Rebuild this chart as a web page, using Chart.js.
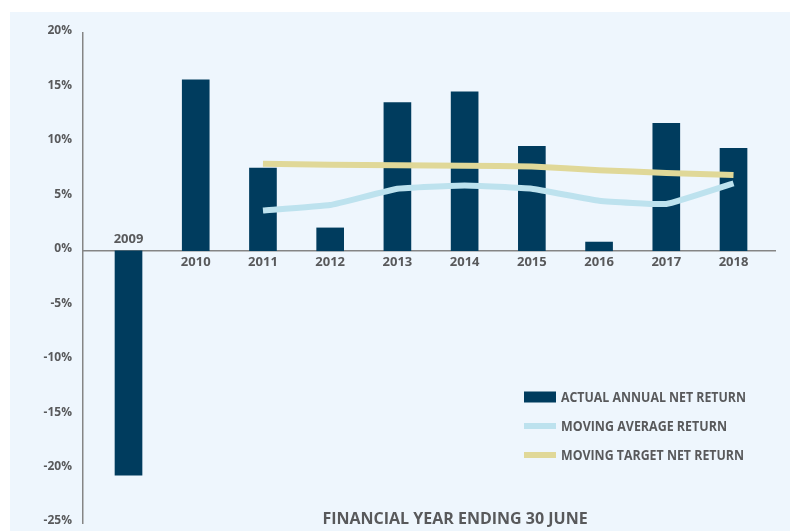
<!DOCTYPE html>
<html>
<head>
<meta charset="utf-8">
<script src="https://cdn.jsdelivr.net/npm/chart.js@4"></script>
<style>
  body { margin: 0; background: #ffffff; }
  #wrap { position: absolute; left: 10px; top: 12px; width: 780px; height: 519px; background: #eef6fd; }
</style>
</head>
<body>
<div id="wrap"><canvas id="returnsChart"></canvas></div>
<script>
// Chart data
const years = [2009, 2010, 2011, 2012, 2013, 2014, 2015, 2016, 2017, 2018];
const actualReturn = [-20.6, 15.7, 7.6, 2.1, 13.6, 14.6, 9.6, 0.8, 11.7, 9.4];
const movingAverage = [null, null, 3.7, 4.2, 5.7, 6.0, 5.7, 4.6, 4.3, 6.2];
const movingTarget = [null, null, 8.0, 7.9, 7.85, 7.8, 7.75, 7.4, 7.15, 6.95];
const yTicks = [-25, -20, -15, -10, -5, 0, 5, 10, 15, 20];

const textGray = '#58595b';
const seriesColors = {
  actual: '#003c5e',
  average: '#bde2ee',
  target: '#e0d898'
};

// year label goes above the zero line when the bar is negative
const negativeLabels = {
  id: 'negativeLabels',
  afterDraw(chart) {
    const { ctx, scales: { x, y } } = chart;
    ctx.save();
    ctx.font = 'bold 13px "Open Sans"';
    ctx.fillStyle = textGray;
    ctx.textAlign = 'center';
    ctx.textBaseline = 'alphabetic';
    years.forEach((yr, i) => {
      if (actualReturn[i] < 0) {
        ctx.fillText(String(yr), x.getPixelForValue(yr), y.getPixelForValue(0) - 8);
      }
    });
    ctx.restore();
  }
};

// legend in the lower right + axis caption
const cornerLegend = {
  id: 'cornerLegend',
  afterDraw(chart) {
    const { ctx } = chart;
    const left = 514, top = 385, rowGap = 29;
    const textWidths = [185, 166, 183];
    ctx.save();
    ctx.font = 'bold 14px "Open Sans"';
    ctx.textBaseline = 'middle';
    chart.data.datasets.forEach((ds, i) => {
      const cy = top + i * rowGap;
      ctx.fillStyle = ds.borderColor;
      if (ds.type === 'line') {
        ctx.fillRect(left, cy - 3, 32, 6);
      } else {
        ctx.fillRect(left, cy - 5.5, 32, 11);
      }
      ctx.fillStyle = textGray;
      ctx.fillText(ds.label, left + 37, cy + 1, textWidths[i]);
    });
    ctx.font = 'bold 16px "Open Sans"';
    ctx.textAlign = 'center';
    ctx.textBaseline = 'alphabetic';
    ctx.fillText('FINANCIAL YEAR ENDING 30 JUNE', 445, 512, 273);
    ctx.restore();
  }
};

const returnsChart = new Chart(document.getElementById('returnsChart'), {
  type: 'bar',
  data: {
    labels: years,
    datasets: [
      {
        label: 'ACTUAL ANNUAL NET RETURN',
        data: actualReturn,
        backgroundColor: seriesColors.actual,
        borderColor: seriesColors.actual,
        barThickness: 27,
        order: 3
      },
      {
        type: 'line',
        label: 'MOVING AVERAGE RETURN',
        data: movingAverage,
        borderColor: seriesColors.average,
        borderWidth: 6,
        pointRadius: 0,
        tension: 0.1,
        order: 2
      },
      {
        type: 'line',
        label: 'MOVING TARGET NET RETURN',
        data: movingTarget,
        borderColor: seriesColors.target,
        borderWidth: 6,
        pointRadius: 0,
        tension: 0.1,
        order: 1
      }
    ]
  },
  options: {
    responsive: true,
    maintainAspectRatio: false,
    animation: false,
    layout: { padding: { top: 21, bottom: 8, right: 15, left: 0 } },
    plugins: {
      legend: { display: false },
      tooltip: { enabled: false }
    },
    scales: {
      x: {
        type: 'linear',
        position: { y: 0 },
        offset: false,
        min: 2008.323,
        max: 2018.617,
        afterFit: scale => { scale.paddingLeft = 0; scale.paddingRight = 0; },
        grid: { display: false, drawTicks: false },
        border: { display: true, color: '#858585', width: 1.5 },
        ticks: {
          stepSize: 1,
          includeBounds: false,
          padding: 4,
          color: textGray,
          font: { family: 'Open Sans', size: 13, weight: 'bold' },
          callback: val => {
            const i = years.indexOf(val);
            if (i < 0 || actualReturn[i] < 0) return '';
            return String(val);
          }
        }
      },
      y: {
        min: yTicks[0],
        max: yTicks[yTicks.length - 1],
        afterBuildTicks: scale => { scale.ticks = yTicks.map(v => ({ value: v })); },
        afterFit: scale => {
          scale.width = 73;
          scale.paddingTop = 0;
          scale.paddingBottom = 0;
        },
        grid: { display: false, drawTicks: false },
        border: { display: true, color: '#858585', width: 1.5 },
        ticks: {
          padding: 11,
          labelOffset: -2,
          color: textGray,
          font: { family: 'Open Sans', size: 12, weight: 'bold' },
          callback: val => val + '%'
        }
      }
    }
  },
  plugins: [negativeLabels, cornerLegend]
});
</script>
</body>
</html>
